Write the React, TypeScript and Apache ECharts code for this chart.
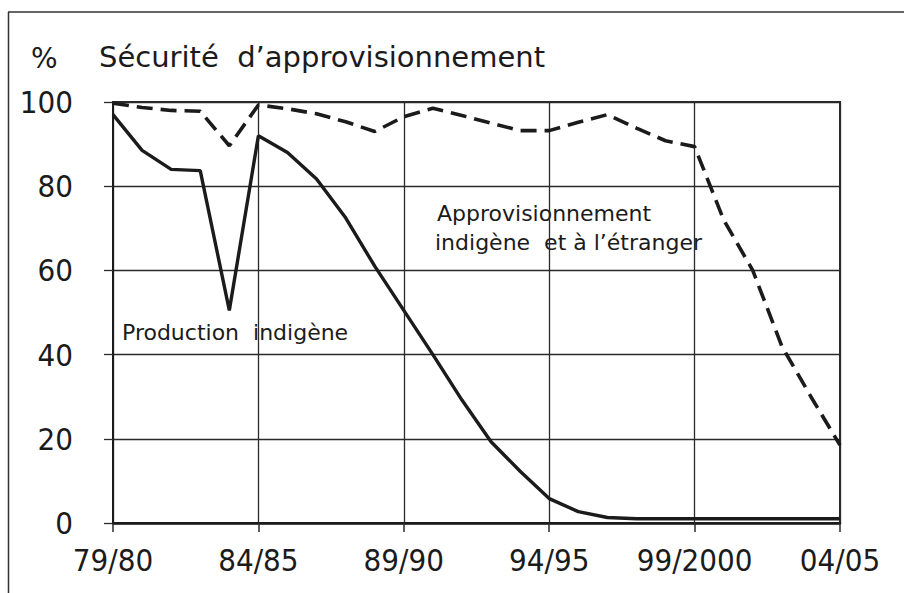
import React, { useEffect, useRef } from "react";
import * as echarts from "echarts";

const seasons = [
  "79/80", "80/81", "81/82", "82/83", "83/84", "84/85", "85/86", "86/87", "87/88", "88/89",
  "89/90", "90/91", "91/92", "92/93", "93/94", "94/95", "95/96", "96/97", "97/98", "98/99",
  "99/2000", "00/01", "01/02", "02/03", "03/04", "04/05",
];

const productionIndigene = [
  97, 88.5, 84, 83.7, 50.5, 92, 88, 81.7, 72.5, 61,
  50.5, 40, 29.2, 19.3, 12.3, 5.8, 2.7, 1.3, 1, 1,
  1, 1, 1, 1, 1, 1,
];

const approvisionnementTotal = [
  99.7, 98.7, 98, 97.8, 89.6, 99.3, 98.4, 97.2, 95.3, 93,
  96.5, 98.5, 96.8, 95, 93.2, 93.2, 95.2, 97, 93.8, 90.8,
  89.4, 72, 60, 42, 30, 18.5,
];

const yTicks = [0, 20, 40, 60, 80, 100];

const titleText = "Sécurité  d’approvisionnement";
const percentText = "%";
const labelTotalLine1 = "Approvisionnement";
const labelTotalLine2 = "indigène  et à l’étranger";
const labelProduction = "Production  indigène";

const INK = "#1b1b1b";
const GRID = "#2a2a2a";
const AXIS_FONT = "'DejaVu Sans Condensed', 'DejaVu Sans', sans-serif";
const TEXT_FONT = "'DejaVu Sans', sans-serif";

export default function App() {
  const ref = useRef<HTMLDivElement | null>(null);

  useEffect(() => {
    if (!ref.current) return;
    const chart = echarts.init(ref.current, null, { renderer: "svg" });
    chart.setOption({
      animation: false,
      backgroundColor: "#ffffff",
      grid: {
        left: 113,
        right: 64,
        top: 102,
        bottom: 70,
        show: true,
        borderColor: GRID,
        borderWidth: 2,
        backgroundColor: "transparent",
      },
      xAxis: {
        type: "category",
        data: seasons,
        boundaryGap: false,
        axisLine: { show: true, lineStyle: { color: INK, width: 2.5 } },
        axisTick: { show: true, interval: 4, length: 9, lineStyle: { color: GRID, width: 1.5 } },
        axisLabel: {
          interval: 4,
          margin: 21,
          color: INK,
          fontSize: 31,
          fontFamily: AXIS_FONT,
        },
        splitLine: { show: true, interval: 4, lineStyle: { color: GRID, width: 1.3 } },
      },
      yAxis: {
        type: "value",
        min: yTicks[0],
        max: yTicks[yTicks.length - 1],
        interval: 20,
        axisLine: { show: true, lineStyle: { color: INK, width: 2 } },
        axisTick: { show: true, length: 9, lineStyle: { color: GRID, width: 1.3 } },
        axisLabel: {
          margin: 40,
          color: INK,
          fontSize: 31,
          fontFamily: AXIS_FONT,
        },
        splitLine: { show: true, lineStyle: { color: GRID, width: 1.3 } },
      },
      series: [
        {
          name: "Approvisionnement indigène et à l'étranger",
          type: "line",
          data: approvisionnementTotal,
          showSymbol: false,
          symbol: "none",
          lineStyle: { color: INK, width: 3.6, type: [16, 8], cap: "butt" },
          z: 3,
        },
        {
          name: "Production indigène",
          type: "line",
          data: productionIndigene,
          showSymbol: false,
          symbol: "none",
          lineStyle: { color: INK, width: 3.4 },
          z: 4,
        },
      ],
      graphic: [
        {
          type: "line",
          shape: { x1: 8, y1: 12, x2: 904, y2: 12 },
          style: { stroke: "#333", lineWidth: 1.5 },
        },
        {
          type: "line",
          shape: { x1: 8.5, y1: 12, x2: 8.5, y2: 593 },
          style: { stroke: "#333", lineWidth: 1.5 },
        },
        {
          type: "text",
          x: 31,
          y: 58,
          style: {
            text: percentText,
            font: `28px ${TEXT_FONT}`,
            fill: INK,
            textVerticalAlign: "middle",
          },
        },
        {
          type: "text",
          x: 99,
          y: 57,
          style: {
            text: titleText,
            font: `29px ${TEXT_FONT}`,
            fill: INK,
            textVerticalAlign: "middle",
          },
        },
        {
          type: "text",
          x: 437,
          y: 213,
          style: {
            text: labelTotalLine1,
            font: `22px ${TEXT_FONT}`,
            fill: INK,
            textVerticalAlign: "middle",
          },
        },
        {
          type: "text",
          x: 435,
          y: 242,
          style: {
            text: labelTotalLine2,
            font: `22px ${TEXT_FONT}`,
            fill: INK,
            textVerticalAlign: "middle",
          },
        },
        {
          type: "text",
          x: 122,
          y: 332,
          style: {
            text: labelProduction,
            font: `22px ${TEXT_FONT}`,
            fill: INK,
            textVerticalAlign: "middle",
          },
        },
      ],
    });
    return () => chart.dispose();
  }, []);

  return (
    <div
      ref={ref}
      style={{ position: "fixed", left: 0, top: 0, width: 904, height: 593, background: "#fff" }}
    />
  );
}
